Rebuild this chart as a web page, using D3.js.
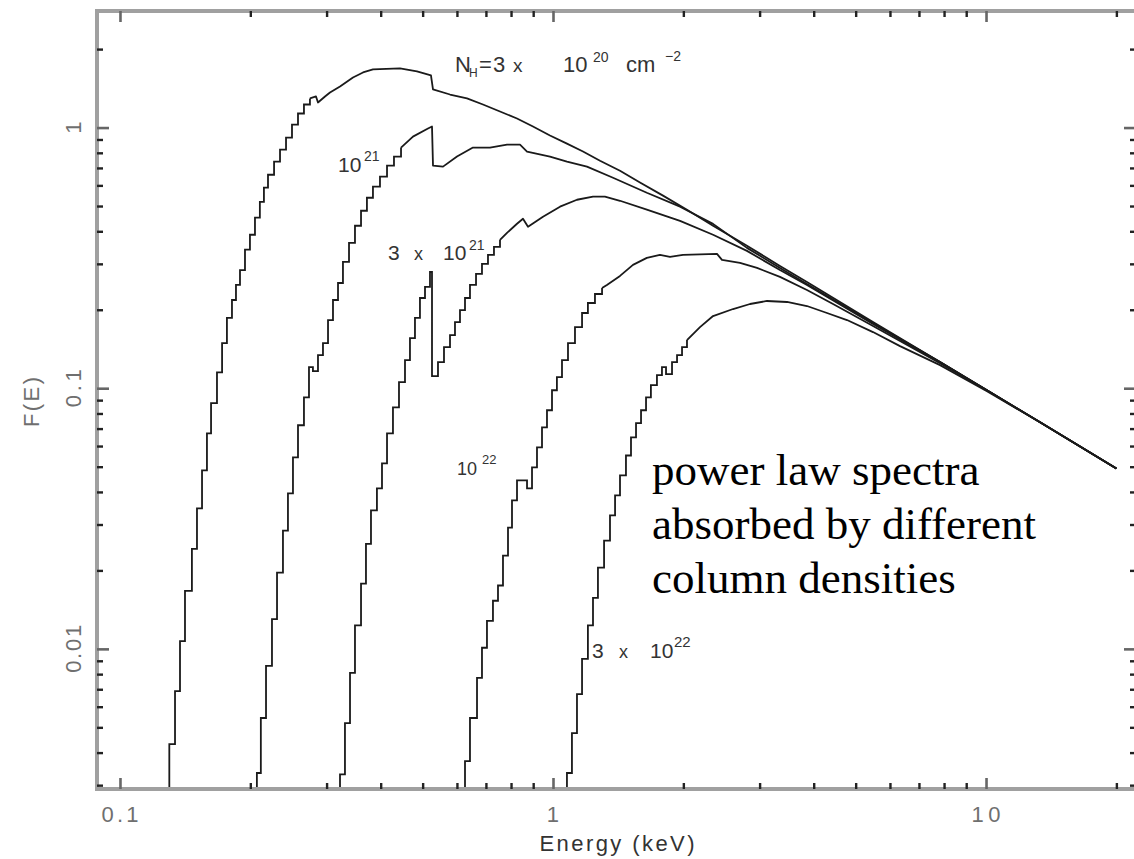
<!DOCTYPE html>
<html><head><meta charset="utf-8">
<script src="https://cdn.jsdelivr.net/npm/d3@7"></script>
<style>body{margin:0;background:#fff}svg{display:block}</style>
</head><body>
<svg id="c" width="1134" height="859"></svg>
<script>
// ---------- axis ticks ----------
const xMajorTicks = [0.1, 1, 10];
const xTickLabels = ["0.1", "1", "10"];
const xMinorTicks = [0.2,0.3,0.4,0.5,0.6,0.7,0.8,0.9,2,3,4,5,6,7,8,9,20];
const yMajorTicks = [0.01, 0.1, 1];
const yTickLabels = ["0.01", "0.1", "1"];
const yMinorTicks = [0.003,0.004,0.005,0.006,0.007,0.008,0.009,0.02,0.03,0.04,0.05,0.06,0.07,0.08,0.09,0.2,0.3,0.4,0.5,0.6,0.7,0.8,0.9,2];

// ---------- spectra: [energy keV, F(E)] ----------
// NH = 3e20 : stepped rise, then smooth part
const riseNH3e20 = [[0.127,0.0015],[0.130,0.00431],[0.134,0.00689],[0.1376,0.0107],[0.1413,0.0167],[0.1466,0.0242],[0.1506,0.0346],[0.1547,0.0484],[0.1588,0.0671],[0.1623,0.0876],[0.1675,0.115],[0.1721,0.149],[0.1766,0.186],[0.1814,0.218],[0.1853,0.249],[0.1893,0.284],[0.1944,0.340],[0.1996,0.388],[0.2050,0.451],[0.2104,0.519],[0.2150,0.588],[0.2197,0.659],[0.2269,0.740],[0.2342,0.823],[0.2418,0.915],[0.2496,1.027],[0.2577,1.132],[0.2660,1.226],[0.2746,1.293]];
const tailNH3e20 = [[0.2746,1.293],[0.2836,1.316],[0.2866,1.248],[0.2975,1.316],[0.3055,1.363],[0.3222,1.438],[0.3452,1.557],[0.3641,1.627],[0.3839,1.672],[0.4433,1.686],[0.4851,1.642],[0.5226,1.585],[0.5283,1.400],[0.5783,1.339],[0.6330,1.293],[0.6891,1.226],[0.7544,1.152],[0.8258,1.083],[0.899,1.009],[0.984,0.932],[1.077,0.868],[1.173,0.809],[1.284,0.746],[1.428,0.683],[1.588,0.615],[1.795,0.548],[2.039,0.484],[2.342,0.420],[2.805,0.352],[3.343,0.2945],[3.859,0.2557],[5.483,0.1794],[7.831,0.1259],[10.05,0.0982],[13.33,0.0740],[20,0.0492]];

// NH = 1e21
const riseNH1e21 = [[0.1996,0.0015],[0.2071,0.00334],[0.2115,0.00543],[0.2174,0.0086],[0.2244,0.0130],[0.2305,0.0196],[0.2379,0.0284],[0.2443,0.0395],[0.2509,0.0543],[0.2577,0.0721],[0.2660,0.0923],[0.2732,0.1204],[0.2790,0.1162],[0.2866,0.1339],[0.2943,0.149],[0.3023,0.1826],[0.3104,0.218],[0.3188,0.2533],[0.3273,0.3052],[0.3380,0.3612],[0.3489,0.420],[0.3603,0.4795],[0.3718,0.538],[0.3839,0.5932],[0.3985,0.6477],[0.4137,0.7143],[0.4293,0.7735],[0.4457,0.8377]];
const tailNH1e21 = [[0.4457,0.8377],[0.4749,0.923],[0.5144,0.991],[0.5255,1.009],[0.5283,0.714],[0.5572,0.708],[0.6002,0.774],[0.6534,0.838],[0.7153,0.838],[0.7831,0.860],[0.8391,0.860],[0.871,0.809],[0.9842,0.774],[1.077,0.740],[1.198,0.708],[1.376,0.642],[1.647,0.562],[1.965,0.497],[2.342,0.427],[2.805,0.3455],[3.343,0.2894],[3.859,0.2512],[5.483,0.1778],[7.831,0.1259],[10.05,0.0982],[13.33,0.0740],[20,0.0492]];

// NH = 3e21
const riseNH3e21 = [[0.3104,0.0015],[0.3222,0.0033],[0.3308,0.00519],[0.3398,0.00809],[0.3489,0.0123],[0.3603,0.0178],[0.3699,0.0253],[0.3799,0.0340],[0.3921,0.0413],[0.4028,0.0515],[0.4137,0.0671],[0.4270,0.0845],[0.4409,0.1055],[0.4552,0.1281],[0.4674,0.1557],[0.4800,0.186],[0.4929,0.2219],[0.5063,0.2446],[0.5199,0.2794],[0.5255,0.1112],[0.5425,0.1259],[0.5601,0.1438],[0.5783,0.1599],[0.5938,0.1794],[0.6098,0.1995],[0.6263,0.2219],[0.6431,0.249],[0.6641,0.2744],[0.6855,0.2998],[0.7077,0.3247],[0.7306,0.3485],[0.7544,0.3708]];
const tailNH3e21 = [[0.7544,0.3708],[0.7831,0.3946],[0.8258,0.4274],[0.8525,0.4467],[0.8756,0.416],[0.9482,0.4548],[1.038,0.497],[1.136,0.5285],[1.237,0.5428],[1.318,0.543],[1.428,0.5238],[1.647,0.484],[1.965,0.4387],[2.342,0.388],[2.805,0.3364],[3.343,0.284],[3.859,0.249],[5.483,0.1763],[7.831,0.1259],[10.05,0.0982],[13.33,0.0740],[20,0.0492]];

// NH = 1e22
const riseNH1e22 = [[0.6034,0.0015],[0.6263,0.00371],[0.6431,0.00543],[0.6676,0.00774],[0.6855,0.0101],[0.7039,0.0128],[0.7267,0.0153],[0.7464,0.0175],[0.7665,0.0228],[0.7872,0.0292],[0.8041,0.0371],[0.8258,0.0443],[0.871,0.0413],[0.8944,0.0497],[0.9184,0.0593],[0.9432,0.0708],[0.9685,0.0823],[0.9947,0.0982],[1.021,0.1102],[1.049,0.1281],[1.083,0.149],[1.124,0.1716],[1.167,0.1943],[1.204,0.2123],[1.250,0.2299],[1.298,0.2424]];
const tailNH1e22 = [[1.298,0.2424],[1.332,0.249],[1.428,0.2697],[1.530,0.2972],[1.647,0.3162],[1.766,0.3247],[1.863,0.319],[1.996,0.3247],[2.392,0.3276],[2.456,0.3107],[2.703,0.3026],[2.959,0.2894],[3.343,0.2673],[3.859,0.2382],[4.433,0.2104],[5.483,0.1732],[7.831,0.1248],[10.05,0.0982],[13.33,0.0740],[20,0.0492]];

// NH = 3e22
const riseNH3e22 = [[1.038,0.0015],[1.077,0.00334],[1.106,0.00475],[1.136,0.00671],[1.167,0.00915],[1.204,0.0123],[1.237,0.0157],[1.270,0.0205],[1.312,0.0260],[1.354,0.0325],[1.391,0.0388],[1.428,0.0463],[1.474,0.0552],[1.514,0.0648],[1.555,0.0734],[1.597,0.0823],[1.640,0.0923],[1.683,0.1027],[1.738,0.1122],[1.785,0.1204],[1.824,0.1132],[1.883,0.1259],[1.934,0.1339],[1.986,0.1438],[2.039,0.153]];
const tailNH3e22 = [[2.039,0.153],[2.185,0.1716],[2.342,0.1892],[2.605,0.2013],[2.851,0.2104],[3.120,0.2161],[3.471,0.2142],[3.859,0.2067],[4.293,0.1943],[4.775,0.1826],[5.483,0.1642],[6.330,0.145],[7.831,0.1226],[10.05,0.0974],[13.33,0.0740],[20,0.0492]];

const spectra = [
  {rise: riseNH3e20, tail: tailNH3e20},
  {rise: riseNH1e21, tail: tailNH1e21},
  {rise: riseNH3e21, tail: tailNH3e21},
  {rise: riseNH1e22, tail: tailNH1e22},
  {rise: riseNH3e22, tail: tailNH3e22}
];

// ---------- drawing ----------
const svg = d3.select("#c");
const x = d3.scaleLog().domain([0.0885, 22.2]).range([97, 1136]);
const y = d3.scaleLog().domain([0.0029, 2.8]).range([789, 11]);
const [x0, x1] = x.range(), [y0, y1] = y.range();

svg.append("rect").attr("width",1134).attr("height",859).attr("fill","#fff");

svg.append("clipPath").attr("id","plot")
  .append("rect").attr("x",x0).attr("y",y1).attr("width",x1-x0).attr("height",y0-y1);

const stepLine = d3.line().x(d=>x(d[0])).y(d=>y(d[1])).curve(d3.curveStepAfter);
const smoothLine = d3.line().x(d=>x(d[0])).y(d=>y(d[1]));

const g = svg.append("g").attr("clip-path","url(#plot)");
spectra.forEach(s=>{
  g.append("path").attr("d",stepLine(s.rise)).attr("fill","none")
    .attr("stroke","#1a1a1a").attr("stroke-width",1.8);
  g.append("path").attr("d",smoothLine(s.tail)).attr("fill","none")
    .attr("stroke","#1a1a1a").attr("stroke-width",1.8).attr("stroke-linejoin","round");
});

// frame
svg.append("rect").attr("x",x0).attr("y",y1).attr("width",x1-x0).attr("height",y0-y1)
  .attr("fill","none").attr("stroke","#a0a0a0").attr("stroke-width",4);

function styleAxis(sel, color, w){
  sel.select(".domain").remove();
  sel.selectAll(".tick line").attr("stroke",color).attr("stroke-width",w);
  sel.selectAll(".tick text").remove();
}
// bottom (ticks inward = up)
svg.append("g").attr("transform",`translate(0,${y0})`)
  .call(d3.axisTop(x).tickValues(xMinorTicks).tickSize(6).tickFormat(""))
  .call(s=>styleAxis(s,"#222",2.4));
svg.append("g").attr("transform",`translate(0,${y0})`)
  .call(d3.axisTop(x).tickValues(xMajorTicks).tickSize(11).tickFormat(""))
  .call(s=>styleAxis(s,"#666",2.6));
// top (ticks inward = down)
svg.append("g").attr("transform",`translate(0,${y1})`)
  .call(d3.axisBottom(x).tickValues(xMinorTicks).tickSize(6).tickFormat(""))
  .call(s=>styleAxis(s,"#222",2.4));
svg.append("g").attr("transform",`translate(0,${y1})`)
  .call(d3.axisBottom(x).tickValues(xMajorTicks).tickSize(11).tickFormat(""))
  .call(s=>styleAxis(s,"#666",2.6));
// left (ticks inward = right)
svg.append("g").attr("transform",`translate(${x0},0)`)
  .call(d3.axisRight(y).tickValues(yMinorTicks).tickSize(6).tickFormat(""))
  .call(s=>styleAxis(s,"#222",2.4));
svg.append("g").attr("transform",`translate(${x0},0)`)
  .call(d3.axisRight(y).tickValues(yMajorTicks).tickSize(12).tickFormat(""))
  .call(s=>styleAxis(s,"#666",2.6));
// right (ticks inward = left)
svg.append("g").attr("transform",`translate(${x1},0)`)
  .call(d3.axisLeft(y).tickValues(yMinorTicks).tickSize(6).tickFormat(""))
  .call(s=>styleAxis(s,"#222",2.4));
svg.append("g").attr("transform",`translate(${x1},0)`)
  .call(d3.axisLeft(y).tickValues(yMajorTicks).tickSize(12).tickFormat(""))
  .call(s=>styleAxis(s,"#666",2.6));

// tick labels
const sans = "'Liberation Sans', Arial, sans-serif";
const xLabelWidths = [37, 10, 29];
xMajorTicks.forEach((v,i)=>{
  svg.append("text").attr("x",x(v)).attr("y",822).attr("text-anchor","middle")
    .attr("font-family",sans).attr("font-size",22).attr("fill","#6f6f6f")
    .attr("textLength",xLabelWidths[i]).attr("lengthAdjust","spacing")
    .text(xTickLabels[i]);
});
const yLabelWidths = [48, 38, 8];
yMajorTicks.forEach((v,i)=>{
  svg.append("text").attr("transform",`translate(81,${y(v)}) rotate(-90)`)
    .attr("text-anchor","middle")
    .attr("font-family",sans).attr("font-size",22).attr("fill","#6f6f6f")
    .attr("textLength",yLabelWidths[i]).attr("lengthAdjust","spacing")
    .text(yTickLabels[i]);
});

// axis titles
svg.append("text").attr("x",617).attr("y",851).attr("text-anchor","middle")
  .attr("font-family",sans).attr("font-size",22).attr("fill","#333")
  .attr("textLength",155).attr("lengthAdjust","spacing").text("Energy (keV)");
svg.append("text").attr("transform","translate(39,402) rotate(-90)").attr("text-anchor","middle")
  .attr("font-family",sans).attr("font-size",22).attr("fill","#6f6f6f")
  .attr("textLength",50).attr("lengthAdjust","spacing").text("F(E)");

// curve annotations
function piece(t, px, py, size, fill){
  svg.append("text").attr("x",px).attr("y",py).attr("font-family",sans)
    .attr("font-size",size).attr("fill",fill||"#333").text(t);
}
// N_H = 3 x 10^20 cm^-2
piece("N",455,72,22); piece("H",469,77,12); piece("=",479,72,22); piece("3",493,72,22);
piece("x",513,72,19); piece("10",563,72,22); piece("20",593,62,14);
piece("cm",626,72,22); piece("\u22122",665,61,14);
// 10^21
piece("10",338,172,21); piece("21",364,161,14);
// 3 x 10^21
piece("3",388,260,21); piece("x",414,260,18); piece("10",443,260,21); piece("21",469,250,14);
// 10^22
piece("10",457,475,18); piece("22",482,464,13);
// 3 x 10^22
piece("3",592,658,21); piece("x",619,658,18); piece("10",650,658,21); piece("22",674,647,15);

// big annotation
const serif = "'Liberation Serif', 'Times New Roman', serif";
["power law spectra","absorbed by different","column densities"].forEach((t,i)=>{
  svg.append("text").attr("x",652).attr("y",485+54*i).attr("font-family",serif)
    .attr("font-size",45).attr("fill","#000").text(t);
});
</script>
</body></html>
